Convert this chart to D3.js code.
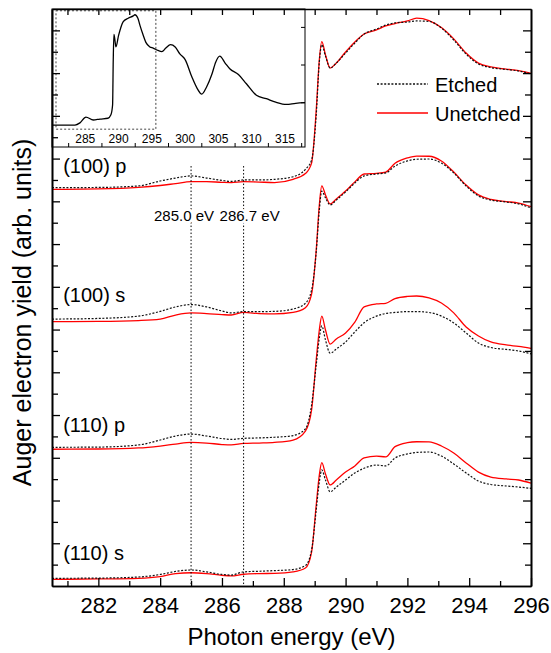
<!DOCTYPE html>
<html>
<head>
<meta charset="utf-8">
<script src="https://cdn.jsdelivr.net/npm/d3@7"></script>
<style>
  body { margin: 0; background: #fff; }
  svg text { font-family: "Liberation Sans", Arial, Helvetica, sans-serif; fill: #000; }
</style>
</head>
<body>
<div id="chart"></div>
<script>
// photon energy grid (eV) shared by the main spectra
const energy = [280.5, 282, 283.3, 284, 284.5, 285, 285.5, 286, 286.3, 286.7, 287.2, 287.7, 288.3, 288.7, 288.9,
  289.05, 289.15, 289.23, 289.35, 289.5, 289.7, 290, 290.3, 290.6, 291, 291.3, 291.6, 292, 292.3, 292.7,
  293.1, 293.5, 293.9, 294.3, 294.7, 295.2, 295.6, 296];

// Auger electron yield (arb. units, stacked with offsets as in the figure)
const etched100p = [18.64, 18.65, 18.72, 18.95, 19.09, 19.19, 19.09, 18.98, 18.93, 19.00, 19.00, 19.03, 19.15, 19.50, 19.93,
  22.04, 24.52, 25.32, 24.80, 24.24, 24.47, 24.94, 25.41, 25.83, 26.06, 26.25, 26.35, 26.39, 26.44, 26.42,
  26.11, 25.55, 24.89, 24.43, 24.26, 24.17, 24.10, 23.96];
const unetched100p = [18.56, 18.58, 18.65, 18.74, 18.83, 18.92, 18.92, 18.89, 18.88, 18.92, 18.90, 18.88, 19.03, 19.30, 19.79,
  22.27, 24.61, 25.47, 24.85, 24.24, 24.47, 24.99, 25.46, 25.83, 26.02, 26.21, 26.32, 26.44, 26.57, 26.46,
  26.13, 25.60, 24.94, 24.47, 24.29, 24.19, 24.12, 23.99];
const etched100s = [12.49, 12.52, 12.63, 12.85, 13.06, 13.17, 13.06, 12.87, 12.78, 12.84, 12.84, 12.85, 12.96, 13.23, 13.85,
  15.63, 17.59, 18.48, 18.16, 17.83, 18.06, 18.44, 18.86, 19.19, 19.28, 19.33, 19.65, 19.89, 19.97, 19.98,
  19.79, 19.33, 18.72, 18.25, 18.06, 17.97, 17.88, 17.69];
const unetched100s = [12.37, 12.38, 12.42, 12.49, 12.68, 12.78, 12.75, 12.70, 12.68, 12.80, 12.75, 12.73, 12.80, 13.02, 13.66,
  15.72, 17.83, 18.72, 18.30, 17.88, 18.11, 18.48, 18.91, 19.28, 19.31, 19.37, 19.78, 20.03, 20.12, 20.11,
  19.89, 19.37, 18.76, 18.30, 18.09, 17.99, 17.92, 17.75];
const etched110p = [6.49, 6.50, 6.60, 6.83, 7.02, 7.11, 7.02, 6.90, 6.86, 6.91, 6.93, 6.96, 7.04, 7.35, 8.47,
  10.34, 11.61, 12.17, 11.51, 10.89, 11.09, 11.42, 11.89, 12.32, 12.63, 12.75, 12.80, 12.84, 12.84, 12.80,
  12.63, 12.31, 11.84, 11.37, 11.16, 11.07, 11.00, 10.86];
const unetched110p = [6.40, 6.41, 6.46, 6.55, 6.64, 6.72, 6.69, 6.62, 6.60, 6.67, 6.69, 6.72, 6.83, 7.25, 8.24,
  10.58, 11.98, 12.63, 11.98, 11.32, 11.56, 11.84, 12.35, 13.06, 13.20, 13.23, 13.45, 13.55, 13.57, 13.48,
  13.24, 12.78, 12.12, 11.70, 11.42, 11.28, 11.21, 11.12];
const etched110s = [0.36, 0.37, 0.42, 0.54, 0.68, 0.75, 0.66, 0.54, 0.51, 0.66, 0.69, 0.72, 0.77, 0.96, 1.68,
  3.56, 4.87, 5.43, 4.96, 4.41, 4.63, 4.96, 5.29, 5.51, 5.66, 5.62, 5.99, 6.18, 6.25, 6.27,
  6.08, 5.71, 5.29, 4.91, 4.75, 4.68, 4.63, 4.57];
const unetched110s = [0.31, 0.33, 0.36, 0.44, 0.58, 0.62, 0.58, 0.50, 0.47, 0.55, 0.58, 0.59, 0.66, 0.84, 1.59,
  3.79, 5.19, 5.77, 5.24, 4.73, 4.96, 5.33, 5.62, 5.99, 6.08, 6.04, 6.52, 6.71, 6.75, 6.74,
  6.55, 6.22, 5.76, 5.33, 5.10, 5.01, 4.96, 4.81];

const panelNames = ["(100) p", "(100) s", "(110) p", "(110) s"];
const panelLabelY = [19.33, 13.3, 7.2, 1.22];
const etchedSeries = [etched100p, etched100s, etched110p, etched110s];
const unetchedSeries = [unetched100p, unetched100s, unetched110p, unetched110s];

// inset: wide range spectrum
const insetEnergy = [280, 283.45, 284.2, 285.1, 286.2, 287.2, 288.4, 288.85, 289.1, 289.2, 289.3, 289.45, 289.6, 290,
  290.7, 291.45, 292.2, 292.45, 292.9, 293.2, 293.65, 294.1, 294.7, 295.2, 295.9, 296.5, 297.1, 297.8, 298.5,
  299.2, 300, 301, 301.8, 302.5, 303.2, 304, 304.6, 305.2, 306, 306.7, 308, 309.2, 310.7, 312.2, 313.6,
  315.2, 316.6, 318];
const insetYield = [0.19, 0.19, 0.21, 0.26, 0.235, 0.243, 0.25, 0.28, 0.365, 0.76, 0.98, 0.93, 0.87, 0.97,
  1.09, 1.12, 1.14, 1.15, 1.12, 1.06, 0.98, 0.91, 0.87, 0.86, 0.84, 0.83, 0.86, 0.89, 0.87,
  0.81, 0.76, 0.61, 0.51, 0.46, 0.52, 0.63, 0.74, 0.79, 0.73, 0.68, 0.63, 0.55, 0.45, 0.42, 0.39,
  0.37, 0.38, 0.385];
const insetTicks = [285, 290, 295, 300, 305, 310, 315];
const insetMinorTicks = [282.5, 287.5, 292.5, 297.5, 302.5, 307.5, 312.5, 317.5];
const insetYTicks = [0.385, 0.713, 1.04];

const markerEnergies = [285.0, 286.7];
const markerLabels = ["285.0 eV", "286.7 eV"];
const xMajorTicks = d3.range(282, 297, 2);
const xMinorTicks = d3.range(281, 296, 2);
const yMajorTicks = d3.range(2, 27, 2);
const yMinorTicks = d3.range(1, 27, 2);

const W = 551, H = 653;
const margin = { top: 9, right: 20, bottom: 67, left: 52 };
const width = W - margin.left - margin.right,
      height = H - margin.top - margin.bottom;

const svg = d3.select("#chart").append("svg")
    .attr("width", W)
    .attr("height", H)
    .style("font-family", "'Liberation Sans', Arial, sans-serif")
  .append("g")
    .attr("transform", "translate(" + margin.left + "," + margin.top + ")");

const x = d3.scaleLinear().domain([280.5, 296]).range([0, width]);
const y = d3.scaleLinear().domain([0, 27]).range([height, 0]);

const line = d3.line()
    .x(d => x(d[0]))
    .y(d => y(d[1]))
    .curve(d3.curveMonotoneX);

// spectra
etchedSeries.forEach((s, i) => {
  svg.append("path")
    .datum(d3.zip(energy, unetchedSeries[i]))
    .attr("fill", "none")
    .attr("stroke", "#ff0000")
    .attr("stroke-width", 1.3)
    .attr("d", line);
  svg.append("path")
    .datum(d3.zip(energy, s))
    .attr("fill", "none")
    .attr("stroke", "#111")
    .attr("stroke-width", 1.2)
    .attr("stroke-dasharray", "2,1.6")
    .attr("d", line);
});

// vertical marker lines
svg.selectAll(".marker")
  .data(markerEnergies)
  .enter().append("line")
    .attr("x1", d => x(d)).attr("x2", d => x(d))
    .attr("y1", y(19.65)).attr("y2", y(0))
    .attr("stroke", "#000")
    .attr("stroke-width", 1)
    .attr("stroke-dasharray", "1.5,2");

svg.append("text")
  .attr("x", x(markerEnergies[0]) + 23).attr("y", y(17.06))
  .attr("text-anchor", "end")
  .style("font-size", "15px")
  .attr("stroke", "#fff").attr("stroke-width", 5).attr("paint-order", "stroke")
  .text(markerLabels[0]);
svg.append("text")
  .attr("x", x(markerEnergies[1]) - 24).attr("y", y(17.06))
  .attr("text-anchor", "start")
  .style("font-size", "15px")
  .attr("stroke", "#fff").attr("stroke-width", 5).attr("paint-order", "stroke")
  .text(markerLabels[1]);

// panel labels
panelNames.forEach((n, i) => {
  svg.append("text")
    .attr("x", x(280.86)).attr("y", y(panelLabelY[i]))
    .style("font-size", "20px")
    .text(n);
});

// legend
const legend = [
  { name: "Etched", color: "#111", dash: "2,1.6", yy: 75 },
  { name: "Unetched", color: "#ff0000", dash: null, yy: 104 }
];
legend.forEach(l => {
  svg.append("line")
    .attr("x1", 325).attr("x2", 376)
    .attr("y1", l.yy).attr("y2", l.yy)
    .attr("stroke", l.color)
    .attr("stroke-width", 1.3)
    .attr("stroke-dasharray", l.dash);
  svg.append("text")
    .attr("x", 383).attr("y", l.yy + 7.5)
    .style("font-size", "20px")
    .text(l.name);
});

// inset
const insetW = 253, insetH = 138;
const inset = svg.append("g");
inset.append("rect")
  .attr("width", insetW).attr("height", insetH)
  .attr("fill", "#fff")
  .attr("stroke", "#000")
  .attr("stroke-width", 1);

const ix = d3.scaleLinear().domain([280, 318]).range([0, insetW]);
const iy = d3.scaleLinear().domain([0, 1.2]).range([insetH, 0]);

// dotted box marking the main plot range
inset.append("rect")
  .attr("x", ix(280.6)).attr("y", iy(1.15) - 4)
  .attr("width", ix(295.6) - ix(280.6))
  .attr("height", iy(0.155) - iy(1.15) + 4)
  .attr("fill", "none")
  .attr("stroke", "#444")
  .attr("stroke-width", 1)
  .attr("stroke-dasharray", "2,2");

inset.append("path")
  .datum(d3.zip(insetEnergy, insetYield))
  .attr("fill", "none")
  .attr("stroke", "#000")
  .attr("stroke-width", 1.3)
  .attr("d", d3.line().x(d => ix(d[0])).y(d => iy(d[1])).curve(d3.curveMonotoneX));

inset.selectAll(".itick")
  .data(insetTicks)
  .enter().append("text")
    .attr("x", d => ix(d)).attr("y", insetH - 4)
    .attr("text-anchor", "middle")
    .style("font-size", "12px")
    .text(d => d);

inset.selectAll(".iminor")
  .data(insetMinorTicks)
  .enter().append("line")
    .attr("x1", d => ix(d)).attr("x2", d => ix(d))
    .attr("y1", insetH - 4).attr("y2", insetH)
    .attr("stroke", "#000");

inset.selectAll(".iytick")
  .data(insetYTicks)
  .enter().append("line")
    .attr("x1", insetW - 4).attr("x2", insetW)
    .attr("y1", d => iy(d)).attr("y2", d => iy(d))
    .attr("stroke", "#000");

// axes
function styleAxis(g) {
  g.attr("font-family", null);
  g.select(".domain").attr("stroke-width", 1.6);
  g.selectAll(".tick line").attr("stroke-width", 1.3);
}

svg.append("g")
  .attr("transform", "translate(0," + height + ")")
  .call(d3.axisBottom(x).tickValues(xMinorTicks).tickSize(-5).tickSizeOuter(0).tickFormat(""))
  .call(styleAxis);
svg.append("g")
  .attr("transform", "translate(0," + height + ")")
  .call(d3.axisBottom(x).tickValues(xMajorTicks).tickSize(-8).tickSizeOuter(0).tickPadding(11).tickFormat(d3.format("d")))
  .call(styleAxis)
  .selectAll("text")
    .style("font-size", "22px");

svg.append("g")
  .call(d3.axisTop(x).tickValues(d3.range(281, 296, 1)).tickSize(-6).tickSizeOuter(0).tickFormat(""))
  .call(styleAxis);

[[yMajorTicks, 8], [yMinorTicks, 6]].forEach(([vals, len]) => {
  svg.append("g")
    .call(d3.axisLeft(y).tickValues(vals).tickSize(-len).tickSizeOuter(0).tickFormat(""))
    .call(styleAxis);
  svg.append("g")
    .attr("transform", "translate(" + width + ",0)")
    .call(d3.axisRight(y).tickValues(vals).tickSize(-len).tickSizeOuter(0).tickFormat(""))
    .call(styleAxis);
});

// axis titles
svg.append("text")
  .attr("x", width / 2)
  .attr("y", height + 59)
  .attr("text-anchor", "middle")
  .style("font-size", "24px")
  .text("Photon energy (eV)");

svg.append("text")
  .attr("transform", "rotate(-90)")
  .attr("x", -(y(12.8)))
  .attr("y", -21)
  .attr("text-anchor", "middle")
  .style("font-size", "25px")
  .text("Auger electron yield (arb. units)");
</script>
</body>
</html>
